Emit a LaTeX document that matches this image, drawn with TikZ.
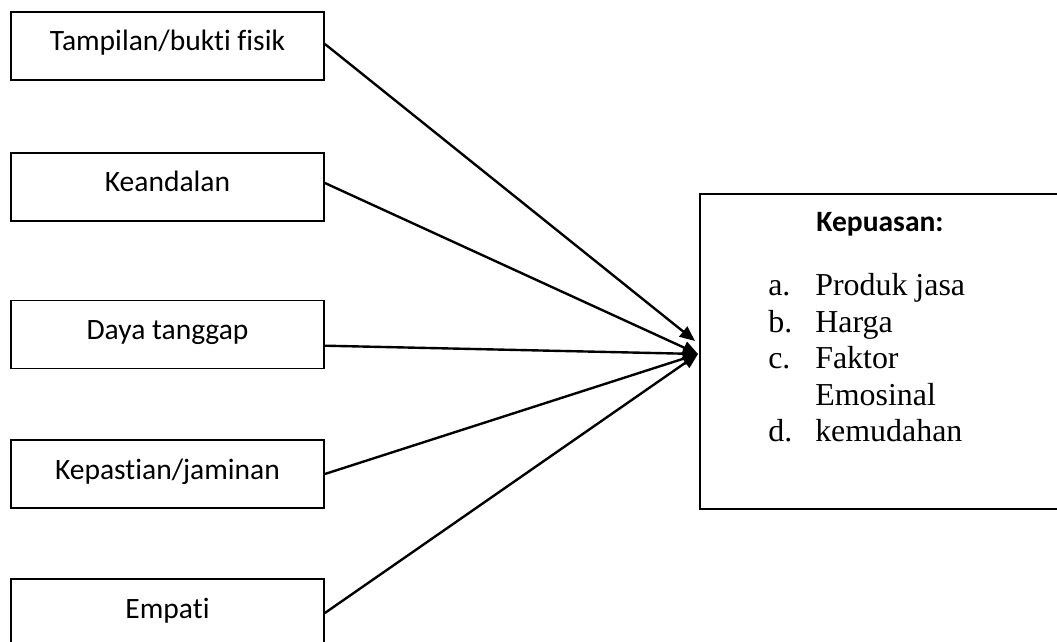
\documentclass[tikz,border=0pt]{standalone}
\usepackage{fontspec}
\setmainfont{Liberation Serif}
\setsansfont[Ligatures=NoCommon]{Carlito}
\usetikzlibrary{arrows.meta}

\tikzset{
  kotak/.style={draw, line width=1.2pt, rectangle, inner sep=0pt},
  dimensi/.style={kotak, minimum width=7.825cm, text height=0.975cm, text depth=0.725cm,
    font=\sffamily\fontsize{21}{24}\selectfont},
  panah/.style={line width=1.7pt, -{Triangle[length=0.38cm, width=0.32cm]}}
}

\begin{document}
\begin{tikzpicture}[x=0.025cm, y=-0.025cm]
  \useasboundingbox (0,0) rectangle (1057,642);
  \clip (0,0) rectangle (1057,642);

  \node[dimensi] (tampilan) at (167.5,46) {Tampilan/bukti fisik};
  \node[dimensi] (keandalan) at (167.5,187) {Keandalan};
  \node[dimensi] (daya) at (167.5,334.5) {Daya tanggap};
  \node[dimensi] (kepastian) at (167.5,474) {Kepastian/jaminan};
  \node[dimensi] (empati) at (167.5,613) {Empati};

  \node[kotak, anchor=north west, minimum width=9.05cm, minimum height=7.875cm] (kepuasan) at (699,193) {};
  \node[anchor=base, font=\sffamily\bfseries\fontsize{21}{24}\selectfont] (judul) at (880,232) {Kepuasan:};
  \node[anchor=base west, inner sep=0pt, font=\fontsize{22.7}{25.9}\selectfont] (daftar) at (768,296)
    {\begin{tabular}[t]{@{}p{1.175cm}@{}l@{}}
      a. & Produk jasa\\
      b. & Harga\\
      c. & Faktor\\
         & Emosinal\\
      d. & kemudahan
    \end{tabular}};

  \coordinate (ujung1) at (695,341);
  \coordinate (ujung2) at (698,354);

  \draw[panah] ([yshift=0.05cm]tampilan.east) -- (ujung1);
  \draw[panah] ([yshift=0.1cm]keandalan.east) -- (ujung2);
  \draw[panah] ([yshift=-0.28cm]daya.east) -- (ujung2);% garis hampir datar
  \draw[panah] (kepastian.east) -- (ujung2);
  \draw[panah] (empati.east) -- (ujung2);
\end{tikzpicture}
\end{document}
